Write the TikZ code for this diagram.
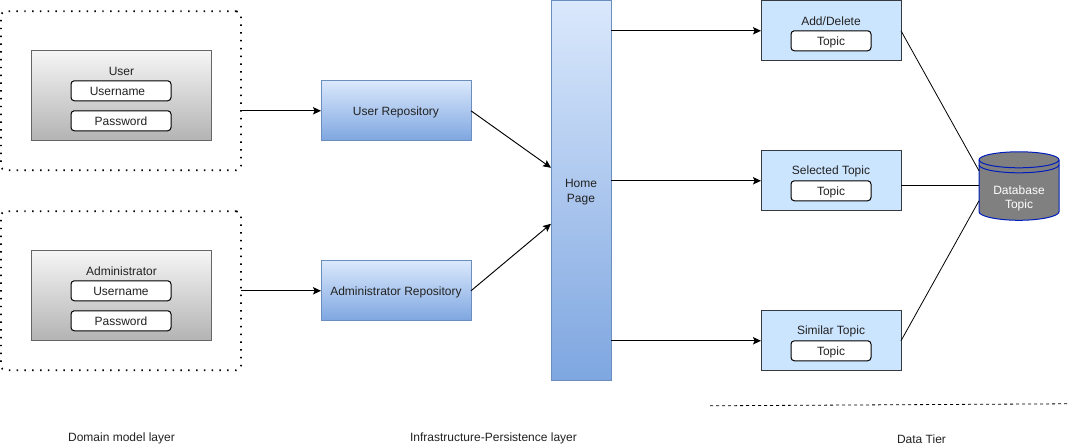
\documentclass[tikz,border=0pt]{standalone}
\usepackage{fontspec}
\setmainfont{Liberation Sans}
\usetikzlibrary{arrows.meta,calc}
\definecolor{greyline}{HTML}{666666}
\definecolor{greytop}{HTML}{F5F5F5}
\definecolor{greybot}{HTML}{B3B3B3}
\definecolor{repotop}{HTML}{DAE8FC}
\definecolor{repobot}{HTML}{7EA6E0}
\definecolor{repoline}{HTML}{6C8EBF}
\definecolor{tierfill}{HTML}{CCE5FF}
\definecolor{tierline}{HTML}{36393D}
\definecolor{dbfill}{HTML}{808080}
\definecolor{dbline}{HTML}{001DBC}
\definecolor{txt}{HTML}{222222}
\tikzset{
  x=0.75pt,y=-0.75pt,
  every node/.style={font=\fontsize{9}{11}\selectfont,text=txt,inner sep=0pt,outer sep=0pt,align=center},
  conn/.style={draw=black,line width=0.7pt,-{Stealth[length=6pt,width=5.5pt,inset=1.2pt]}},
  plainconn/.style={draw=black,line width=0.6pt},
  dotbox/.style={draw=black,line width=1.3pt,rounded corners=3.5pt,dash pattern=on 1.1pt off 4.75pt,minimum width=180pt,minimum height=119.25pt},
  entity/.style={draw=greyline,line width=0.75pt,top color=greytop,bottom color=greybot,minimum width=135pt,minimum height=67.5pt},
  field/.style={draw=black,fill=white,line width=0.75pt,rounded corners=2.5pt,minimum width=75pt,minimum height=15pt,text height=6.9pt,text depth=0pt},
  topicfield/.style={field,minimum width=60pt},
  repo/.style={draw=repoline,line width=0.75pt,top color=repotop,bottom color=repobot,minimum width=112.5pt,minimum height=45pt,text height=6.9pt,text depth=0pt},
  homebar/.style={draw=repoline,line width=0.75pt,top color=repotop,bottom color=repobot,minimum width=45pt,minimum height=285pt},
  tier/.style={draw=tierline,fill=tierfill,line width=0.75pt,minimum width=105pt,minimum height=45pt},
  dbtext/.style={text=white,minimum width=60pt,minimum height=51pt},
  caption/.style={text=txt},
}
\begin{document}
\begin{tikzpicture}
\path[use as bounding box,fill=white] (0,0) rectangle (1071,448);
\begin{scope}[yshift=-0.6pt]
% domain layer
\node[dotbox] (uo) at (121,90) {};
\node[dotbox] (ao) at (121,290) {};
\node[entity] (ue) at (121,95) {};
\node[entity] (ae) at (121,295) {};
\node (ul) at (121.5,70.5) {User};
\node (al) at (121.5,270.5) {Administrator};
\node[field] (uf1) at (121,90) {};
\node[text height=6.9pt,text depth=0pt] (uf1t) at (117.5,90) {Username};
\node[field] (uf2) at (121,120) {Password};
\node[field] (af1) at (121,290) {Username};
\node[field] (af2) at (121,320) {Password};
% repositories
\node[repo] (ur) at (396,110) {User Repository};
\node[repo] (ar) at (396,290) {Administrator Repository};
% home
\node[homebar] (hp) at (581,190) {};
\node (hpt) at (581,191) {Home\\Page};
\coordinate (hpa) at (551,167);
\coordinate (hpb) at (551,223);
% tier
\node[tier] (t1) at (831,30) {};
\node[tier] (t2) at (831,180) {};
\node[tier] (t3) at (831,340) {};
\node (t1l) at (831,20.5) {Add/Delete};
\node (t2l) at (831,170.5) {Selected Topic};
\node (t3l) at (831,330.5) {Similar Topic};
\node[topicfield] (tf1) at (831,40) {Topic};
\node[topicfield] (tf2) at (831,190) {Topic};
\node[topicfield] (tf3) at (831,350) {Topic};
% database
\draw[dbline,fill=dbfill,line width=0.75pt] (979,159) .. controls (979,154.6) and (997,151) .. (1019,151) .. controls (1041,151) and (1059,154.6) .. (1059,159) -- (1059,211) .. controls (1059,215.4) and (1041,219.5) .. (1019,219.5) .. controls (997,219.5) and (979,215.4) .. (979,211) -- cycle;
\draw[dbline,line width=0.75pt] (979,159) .. controls (979,163.4) and (997,167) .. (1019,167) .. controls (1041,167) and (1059,163.4) .. (1059,159);
\draw[dbline,line width=0.75pt] (979,164) .. controls (979,168.4) and (997,172) .. (1019,172) .. controls (1041,172) and (1059,168.4) .. (1059,164);
\node[dbtext] (db) at (1019,197.5) {Database\\Topic};
\coordinate (dba) at (979,170);
\coordinate (dbb) at (979,185);
\coordinate (dbc) at (979,200);
% connectors
\draw[conn] (uo.east |- ur.west) -- (ur.west);
\draw[conn] (ao.east |- ar.west) -- (ar.west);
\draw[conn] (ur.east) -- (hpa);
\draw[conn] (ar.east) -- (hpb);
\draw[conn] (hp.east |- t1.west) -- (t1.west);
\draw[conn] (hp.east |- t2.west) -- (t2.west);
\draw[conn] (hp.east |- t3.west) -- (t3.west);
\draw[plainconn] (t1.east) -- (dba);
\draw[plainconn] (t2.east |- dbb) -- (dbb);
\draw[plainconn] (t3.east) -- (dbc);
% dashed rule
\coordinate (rulea) at (710,405);
\coordinate (ruleb) at (1067,403);
\draw[black,line width=0.6pt,dash pattern=on 2.25pt off 2.25pt] (rulea) -- (ruleb);
% captions
\node[caption] (c1) at (121.5,438) {Domain model layer};
\node[caption] (c2) at (493.5,438) {Infrastructure-Persistence layer};
\node[caption] (c3) at (921.5,438) {Data Tier};
\end{scope}
\end{tikzpicture}
\end{document}
